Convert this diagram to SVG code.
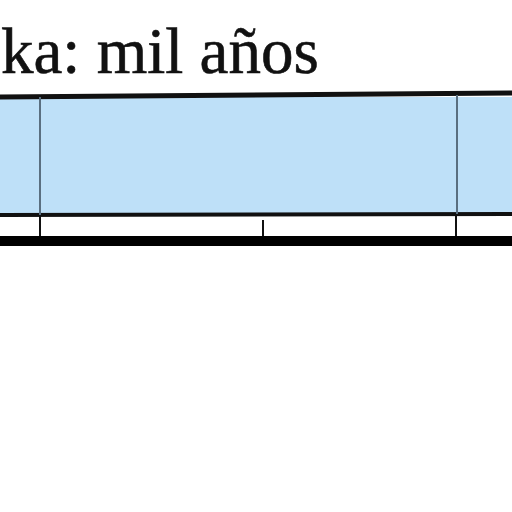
<svg xmlns="http://www.w3.org/2000/svg" width="512" height="512" viewBox="0 0 512 512">
<style>
.t{font-family:"Liberation Serif","Times New Roman",serif;font-size:65px;fill:#111;stroke:#111;stroke-width:0.6}
.v{stroke:#5a6f80;stroke-width:2}
.k{stroke:#111;stroke-width:2}
</style>
<rect width="512" height="512" fill="#fff"/>
<g id="label"><text class="t" x="1" y="73">ka: mil años</text></g>
<g id="band">
<rect x="0" y="97" width="512" height="118" fill="#bee0f8"/>
<path d="M0 97 L512 93" stroke="#111" stroke-width="5"/>
<path d="M0 215 L512 214" stroke="#111" stroke-width="4"/>
</g>
<g id="connectors">
<line class="v" x1="40" y1="97" x2="40" y2="215"/>
<line class="v" x1="457" y1="95" x2="457" y2="214"/>
<line class="k" x1="40" y1="215" x2="40" y2="236"/>
<line class="k" x1="263" y1="220" x2="263" y2="236"/>
<line class="k" x1="456" y1="214" x2="456" y2="236"/>
</g>
<g id="axis"><rect x="0" y="236" width="512" height="10" fill="#000"/></g>
</svg>
